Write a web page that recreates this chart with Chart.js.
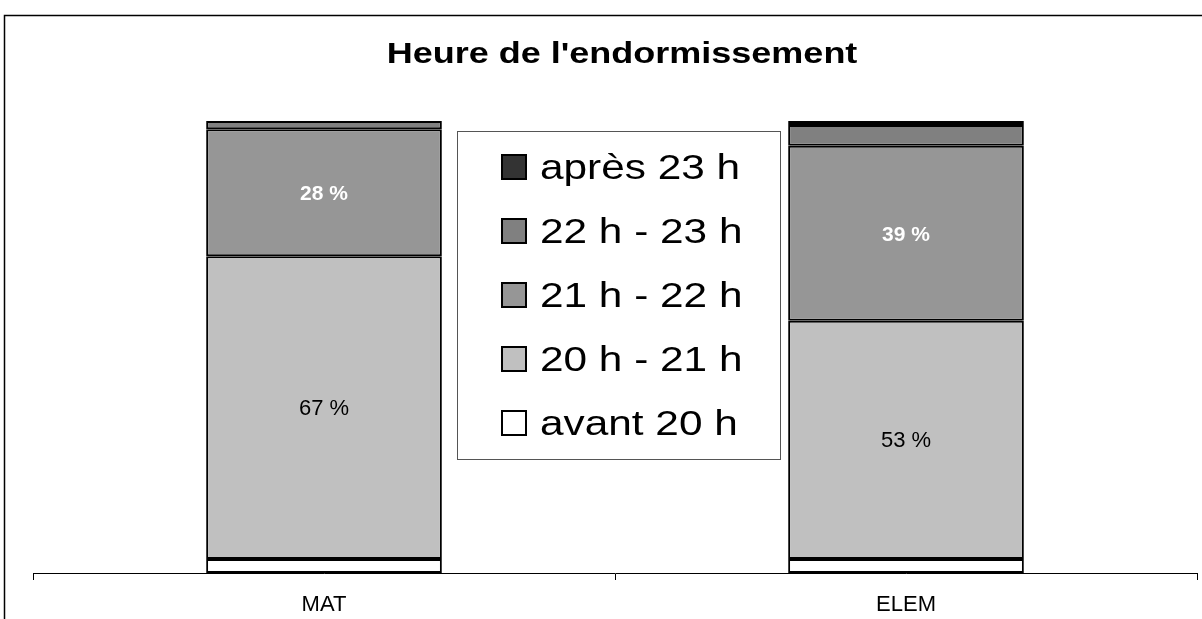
<!DOCTYPE html>
<html>
<head>
<meta charset="utf-8">
<script src="https://cdn.jsdelivr.net/npm/chart.js@4.4.1/dist/chart.umd.min.js"></script>
<style>
  html, body { margin: 0; padding: 0; background: #fff; }
  #wrap { width: 1202px; height: 619px; }
</style>
</head>
<body>
<div id="wrap"><canvas id="myChart"></canvas></div>
<script>
var chartTitle = "Heure de l'endormissement";
var categories = ['MAT', 'ELEM'];
var seriesNames = ['avant 20 h', '20 h - 21 h', '21 h - 22 h', '22 h - 23 h', 'après 23 h'];
var avant20 = [3.1, 3.1];
var de20a21 = [67, 52.7];
var de21a22 = [28.1, 38.7];
var de22a23 = [1.8, 4.6];
var apres23 = [0, 0.9];
var colors = ['#ffffff', '#c0c0c0', '#969696', '#808080', '#333333'];

var seriesValues = [avant20, de20a21, de21a22, de22a23, apres23];
var FONT = '"Liberation Sans", Arial, sans-serif';

// white background, frame and the (slightly wide) title
var framePlugin = {
    id: 'frame',
    beforeDraw: function(chart) {
        var c = chart.ctx;
        c.save();
        c.fillStyle = '#fff';
        c.fillRect(0, 0, chart.width, chart.height);
        c.strokeStyle = '#000';
        c.lineWidth = 1.5;
        c.strokeRect(4.5, 15.5, 1400, 800);
        c.fillStyle = '#000';
        c.font = 'bold 30px ' + FONT;
        c.textAlign = 'center';
        c.textBaseline = 'alphabetic';
        c.translate(622, 63);
        c.scale(1.2, 1);
        c.fillText(chartTitle, 0, 0);
        c.restore();
    }
};

// percentage labels on the two big segments
var valuePlugin = {
    id: 'values',
    afterDatasetsDraw: function(chart) {
        var c = chart.ctx;
        c.save();
        c.textAlign = 'center';
        c.textBaseline = 'middle';
        [1, 2].forEach(function(di) {
            var meta = chart.getDatasetMeta(di);
            meta.data.forEach(function(bar, i) {
                var v = chart.data.datasets[di].data[i];
                if (di === 1) {
                    c.fillStyle = '#000';
                    c.font = '22px ' + FONT;
                } else {
                    c.fillStyle = '#fff';
                    c.font = 'bold 21px ' + FONT;
                }
                c.fillText(Math.round(v) + ' %', bar.x, (bar.y + bar.base) / 2 + 1.5);
            });
        });
        c.restore();
    }
};

// boxed legend sitting between the bars
var legendPlugin = {
    id: 'boxLegend',
    afterDraw: function(chart) {
        var c = chart.ctx;
        var ds = chart.data.datasets;
        c.save();
        c.fillStyle = '#fff';
        c.fillRect(457.5, 131.5, 323, 328);
        c.strokeStyle = '#555';
        c.lineWidth = 1;
        c.strokeRect(457.5, 131.5, 323, 328);
        c.font = '35px ' + FONT;
        c.textBaseline = 'middle';
        c.textAlign = 'left';
        for (var k = 0; k < ds.length; k++) {
            var d = ds[ds.length - 1 - k];
            var cy = 167 + k * 64;
            c.fillStyle = d.backgroundColor;
            c.fillRect(502, cy - 12, 24, 24);
            c.strokeStyle = '#000';
            c.lineWidth = 2;
            c.strokeRect(502, cy - 12, 24, 24);
            c.save();
            c.translate(540, cy + 2);
            c.scale(1.21, 1);
            c.fillStyle = '#000';
            c.fillText(d.label, 0, 0);
            c.restore();
        }
        c.restore();
    }
};

var datasets = seriesNames.map(function(name, i) {
    return {
        label: name,
        data: seriesValues[i],
        backgroundColor: colors[i],
        borderColor: '#000',
        borderWidth: 2,
        borderSkipped: false,
        categoryPercentage: 0.81,
        barPercentage: 0.5
    };
});

var ctx = document.getElementById('myChart').getContext('2d');
var myChart = new Chart(ctx, {
    type: 'bar',
    data: {
        labels: categories,
        datasets: datasets
    },
    plugins: [framePlugin, valuePlugin, legendPlugin],
    options: {
        responsive: true,
        maintainAspectRatio: false,
        animation: false,
        layout: {
            padding: { top: 121, left: 33, right: 5, bottom: 0 }
        },
        plugins: {
            legend: { display: false },
            tooltip: { enabled: false },
            title: { display: false }
        },
        scales: {
            x: {
                stacked: true,
                afterFit: function(scale) { scale.height = 46; },
                grid: {
                    offset: true,
                    drawOnChartArea: false,
                    color: '#000',
                    tickLength: 7
                },
                border: { display: true, color: '#000', width: 1 },
                ticks: {
                    color: '#000',
                    padding: 12,
                    font: { family: FONT, size: 22, lineHeight: 1.2 }
                }
            },
            y: {
                stacked: true,
                display: false,
                min: 0,
                max: 100
            }
        }
    }
});
</script>
</body>
</html>
